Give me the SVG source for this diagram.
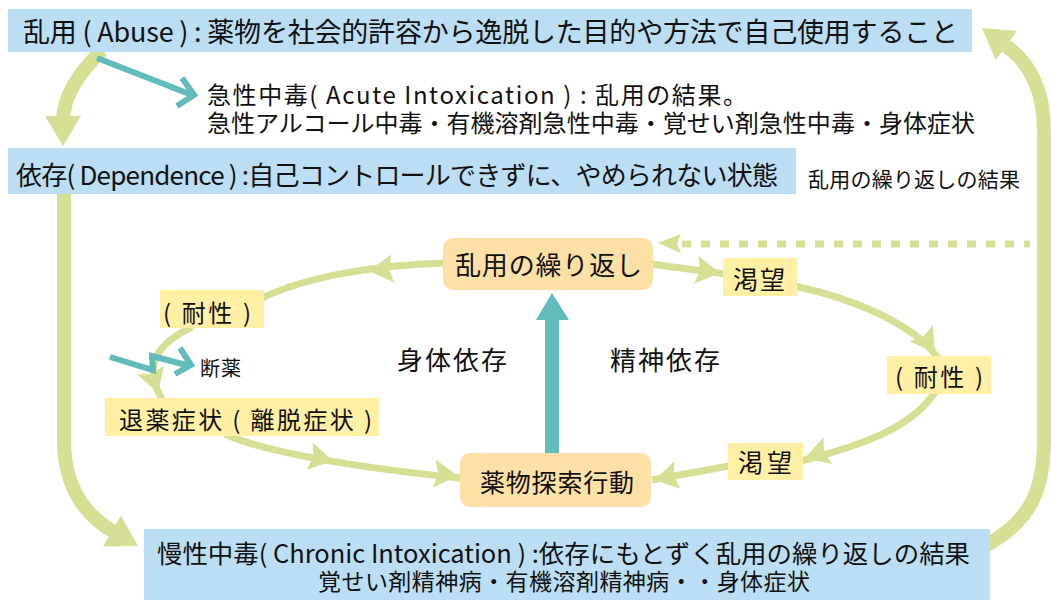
<svg xmlns="http://www.w3.org/2000/svg" xmlns:xlink="http://www.w3.org/1999/xlink" width="1051" height="600" viewBox="0 0 1051 600">
<style>
text{font-family:"Noto Sans CJK JP","Noto Sans",sans-serif;fill:#111;}
.blue{fill:#bcdef4;}
.orange{fill:#fde0a5;}
.yellow{fill:#fff0a6;}
.g{fill:none;stroke:#d6df94;stroke-width:7;}
.gb{fill:none;stroke:#d6df94;stroke-width:14;}
.gf{fill:#d6df94;}
.t{fill:none;stroke:#62bbbb;stroke-width:6;}
.tf{fill:#62bbbb;}
</style>
<defs>
<path id="ah" d="M0,0 L-24,-14 L-20,0 L-24,14 Z"/>
<path id="ahb" d="M0,0 L-30,-18 L-30,18 Z"/>
</defs>
<rect width="1051" height="600" fill="#fff"/>
<g id="connectors">
  <!-- abuse -> dependence -->
  <path class="gb" d="M102,50 C80,72 63,95 63,122"/>
  <use href="#ahb" class="gf" transform="translate(63,146) rotate(90)"/>
  <!-- dependence -> chronic -->
  <path class="gb" d="M64,194 L64,440 C64,490 88,518 116,533"/>
  <use href="#ahb" class="gf" transform="translate(138,546) rotate(30)"/>
  <!-- chronic -> abuse -->
  <path class="gb" d="M985,546 C1030,522 1044,490 1044,440 L1044,130 C1044,92 1030,62 1006,46"/>
  <use href="#ahb" class="gf" transform="translate(982,28) rotate(216)"/>
  <!-- abuse -> acute (teal) -->
  <path class="t" d="M97,58 L192,95"/>
  <polyline class="t" points="182,78 194,95 177,106"/>
  <!-- dashed -->
  <path class="g" d="M682,244 L1030,244" stroke-dasharray="9 10"/>
  <polygon class="gf" points="658,243 681,234 677,243 681,253"/>
  <!-- cycle -->
  <path class="g" d="M445,263 C380,265 310,275 262,298"/>
  <use href="#ah" class="gf" transform="translate(369,271) rotate(174)"/>
  <path class="g" d="M192,327 C158,343 142,365 162,399"/>
  <use href="#ah" class="gf" transform="translate(158,393) rotate(72)"/>
  <path class="g" d="M225,434 C270,455 380,470 460,478"/>
  <use href="#ah" class="gf" transform="translate(333,461) rotate(12)"/>
  <use href="#ah" class="gf" transform="translate(458,476) rotate(6)"/>
  <path class="g" d="M651,264 L725,274"/>
  <use href="#ah" class="gf" transform="translate(720,273) rotate(8)"/>
  <path class="g" d="M795,286 C850,298 912,322 938,358"/>
  <use href="#ah" class="gf" transform="translate(935,353) rotate(55)"/>
  <path class="g" d="M935,392 C912,428 860,446 801,461"/>
  <use href="#ah" class="gf" transform="translate(805,458) rotate(162)"/>
  <path class="g" d="M729,466 L652,480"/>
  <use href="#ah" class="gf" transform="translate(654,480) rotate(168)"/>
  <!-- teal up arrow -->
  <rect class="tf" x="545" y="318" width="14" height="136"/>
  <polygon class="tf" points="552,293 569,320 536,320"/>
  <!-- teal zigzag -->
  <polyline class="t" points="110,357 153,370 152,356 190,366"/>
  <polyline class="t" points="180,348 191,365 175,374"/>
</g>
<g id="abuse">
  <rect class="blue" x="8" y="9" width="964" height="43"/>
  <text x="23" y="42" font-size="27" textLength="935" lengthAdjust="spacing">乱用 ( Abuse ) : 薬物を社会的許容から逸脱した目的や方法で自己使用すること</text>
</g>
<g id="acute">
  <text x="207" y="104" font-size="24" textLength="540" lengthAdjust="spacing">急性中毒( Acute Intoxication ) : 乱用の結果。</text>
  <text x="207" y="132" font-size="24" textLength="768" lengthAdjust="spacing">急性アルコール中毒・有機溶剤急性中毒・覚せい剤急性中毒・身体症状</text>
</g>
<g id="dependence">
  <rect class="blue" x="8" y="148" width="788" height="46"/>
  <text x="16" y="185" font-size="26" textLength="762" lengthAdjust="spacing">依存( Dependence ) :自己コントロールできずに、やめられない状態</text>
</g>
<g id="repeat-note">
  <text x="808" y="187" font-size="21" textLength="212" lengthAdjust="spacing">乱用の繰り返しの結果</text>
</g>
<g id="repeat">
  <rect class="orange" x="443" y="238" width="210" height="52" rx="10"/>
  <text x="455" y="275" font-size="26" textLength="187" lengthAdjust="spacing">乱用の繰り返し</text>
</g>
<g id="craving1">
  <rect class="yellow" x="723" y="258" width="74" height="38"/>
  <text x="733" y="289" font-size="25" textLength="52" lengthAdjust="spacing">渇望</text>
</g>
<g id="tolerance-right">
  <rect class="yellow" x="887" y="356" width="104" height="38"/>
  <text x="895" y="386" font-size="24" textLength="88" lengthAdjust="spacing">( 耐性 )</text>
</g>
<g id="craving2">
  <rect class="yellow" x="728" y="443" width="75" height="37"/>
  <text x="738" y="472" font-size="25" textLength="54" lengthAdjust="spacing">渇望</text>
</g>
<g id="seeking">
  <rect class="orange" x="460" y="453" width="191" height="54" rx="10"/>
  <text x="480" y="492" font-size="25" textLength="154" lengthAdjust="spacing">薬物探索行動</text>
</g>
<g id="tolerance-left">
  <rect class="yellow" x="160" y="290" width="104" height="38"/>
  <text x="163" y="322" font-size="24" textLength="88" lengthAdjust="spacing">( 耐性 )</text>
</g>
<g id="withdrawal">
  <rect class="yellow" x="105" y="398" width="274" height="38"/>
  <text x="119" y="429" font-size="24" textLength="253" lengthAdjust="spacing">退薬症状 ( 離脱症状 )</text>
</g>
<g id="cessation">
  <text x="200" y="376" font-size="20" textLength="41" lengthAdjust="spacing">断薬</text>
</g>
<g id="physical">
  <text x="397" y="370" font-size="26" textLength="110" lengthAdjust="spacing">身体依存</text>
</g>
<g id="mental">
  <text x="610" y="370" font-size="26" textLength="110" lengthAdjust="spacing">精神依存</text>
</g>
<g id="chronic">
  <rect class="blue" x="144" y="529" width="846" height="71"/>
  <text x="157" y="563" font-size="25" textLength="813" lengthAdjust="spacingAndGlyphs">慢性中毒( Chronic Intoxication ) :依存にもとずく乱用の繰り返しの結果</text>
  <text x="318" y="590" font-size="23" textLength="492" lengthAdjust="spacing">覚せい剤精神病・有機溶剤精神病・・身体症状</text>
</g>
</svg>
